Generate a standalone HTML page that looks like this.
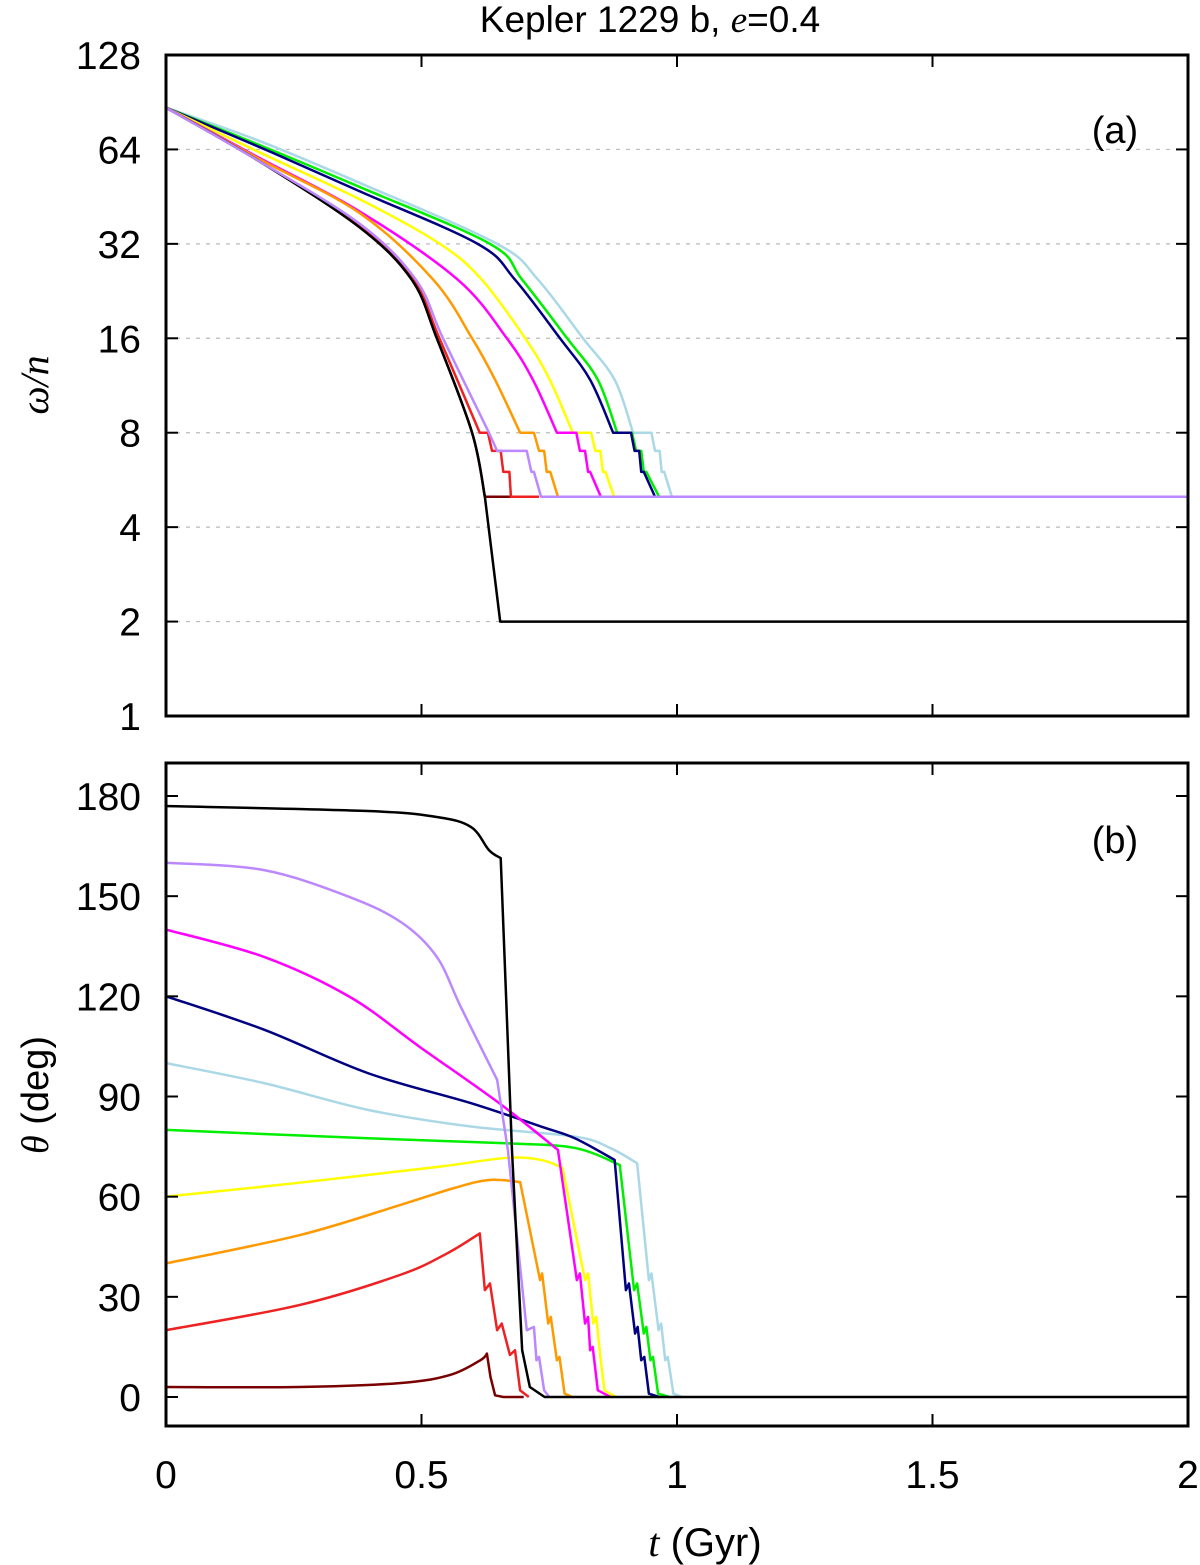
<!DOCTYPE html>
<html><head><meta charset="utf-8"><style>
body{margin:0;background:#fff;}
svg{display:block;font-family:"Liberation Sans",sans-serif;}
</style></head><body>
<svg id="chart" width="1200" height="1565" viewBox="0 0 1200 1565" xmlns="http://www.w3.org/2000/svg">
<text x="650" y="32" font-size="37" text-anchor="middle">Kepler 1229 b, <tspan font-family="Liberation Serif" font-style="italic">e</tspan>=0.4</text>
<g id="top"></g>
<g id="bot"></g>
<text transform="translate(48,385) rotate(-90)" font-size="40" text-anchor="middle" font-family="Liberation Serif" font-style="italic">ω/n</text>
<text transform="translate(48,1095) rotate(-90)" font-size="38" text-anchor="middle"><tspan font-family="Liberation Serif" font-style="italic">θ</tspan> (deg)</text>
<text x="705" y="1556" font-size="40" text-anchor="middle"><tspan font-family="Liberation Serif" font-style="italic">t</tspan> (Gyr)</text>
<text x="1115" y="143" font-size="38" text-anchor="middle">(a)</text>
<text x="1115" y="853" font-size="38" text-anchor="middle">(b)</text>
</svg>
<script>
const xTicks=[0,0.5,1,1.5,2];
const xTickLabels=["0","0.5","1","1.5","2"];
const topTicks=[1,2,4,8,16,32,64,128];
const botTicks=[0,30,60,90,120,150,180];
const colors=["#7a0000","#ee2222","#bb88ff","#ff9900","#ff00ff","#ffff00","#00ee00","#000080","#aad8e6","#000000"];
const names=["darkred","red","purple","orange","magenta","yellow","green","navy","lightblue","black"];
// Panel (a): omega/n vs t [t, value]
const omBlack=[[0,87],[0.184,58.5],[0.38,36],[0.481,24.6],[0.53,16],[0.599,8],[0.624,5],[0.654,2],[2,2]];
const omDarkred=[[0,87],[0.184,58.5],[0.38,36],[0.481,24.6],[0.53,16],[0.599,8],[0.624,5],[0.675,5]];
const omRed=[[0,87],[0.184,58.5],[0.38,36.5],[0.484,24.6],[0.535,16],[0.614,8],[0.63,8],[0.638,7],[0.655,7],[0.66,6],[0.672,6],[0.675,5],[0.73,5]];
const omPurple=[[0,87],[0.184,58.5],[0.38,37],[0.489,24.6],[0.542,16],[0.632,8],[0.648,7],[0.706,7],[0.715,6],[0.72,6],[0.734,5],[2,5]];
const omOrange=[[0,87],[0.184,59.5],[0.38,40],[0.523,24.6],[0.599,16],[0.644,11.8],[0.693,8],[0.72,8],[0.73,7],[0.74,7],[0.745,6],[0.752,6],[0.767,5],[0.8,5]];
const omMagenta=[[0,87],[0.184,60],[0.38,40.5],[0.571,24.6],[0.667,16],[0.718,11.8],[0.765,8],[0.803,8],[0.81,7],[0.82,7],[0.826,6],[0.83,6],[0.851,5],[0.9,5]];
const omYellow=[[0,87],[0.184,62.5],[0.38,44.3],[0.536,32],[0.618,24.6],[0.703,16],[0.751,11.8],[0.796,8],[0.832,8],[0.84,7],[0.85,7],[0.855,6],[0.86,6],[0.877,5],[0.9,5]];
const omNavy=[[0,87],[0.184,65],[0.38,47],[0.61,32],[0.683,24.6],[0.771,16],[0.83,11.8],[0.875,8],[0.91,8],[0.917,7],[0.926,7],[0.93,6],[0.935,6],[0.957,5],[1,5]];
const omGreen=[[0,87],[0.184,66],[0.38,48.5],[0.634,32],[0.697,24.6],[0.785,16],[0.845,11.8],[0.883,8],[0.912,8],[0.92,7],[0.93,7],[0.935,6],[0.94,6],[0.965,5],[1,5]];
const omLightblue=[[0,87],[0.184,68],[0.38,50],[0.648,32],[0.728,24.6],[0.816,16],[0.878,11.8],[0.914,8],[0.95,8],[0.957,7],[0.966,7],[0.97,6],[0.975,6],[0.99,5],[1.02,5]];
// Panel (b): theta vs t
const thDarkred=[[0,3],[0.26,3],[0.46,4.2],[0.556,6.6],[0.615,11],[0.628,13],[0.635,6],[0.644,0.5],[0.66,0],[0.7,0]];
const thRed=[[0,20],[0.26,27.5],[0.457,36.5],[0.55,43],[0.614,49],[0.624,32],[0.634,34],[0.648,20],[0.657,22],[0.673,12.6],[0.683,14],[0.693,2],[0.71,0]];
const thPurple=[[0,160],[0.192,157.8],[0.36,149.7],[0.462,142],[0.53,131.8],[0.577,116.8],[0.648,95],[0.669,74],[0.706,20],[0.72,21],[0.725,11],[0.73,12],[0.74,2],[0.75,0]];
const thOrange=[[0,40],[0.262,48.5],[0.458,57.5],[0.564,62.6],[0.632,65],[0.693,64.4],[0.732,35],[0.736,37],[0.748,22],[0.753,24],[0.765,11],[0.77,12],[0.78,1],[0.795,0]];
const thMagenta=[[0,140],[0.192,131.8],[0.36,119.8],[0.497,104.8],[0.652,88],[0.767,74],[0.804,35],[0.81,37],[0.82,22],[0.826,24],[0.83,14],[0.835,15],[0.845,2],[0.87,0]];
const thYellow=[[0,60],[0.25,64],[0.53,68.9],[0.665,71.6],[0.734,71],[0.776,68.6],[0.82,35],[0.826,37],[0.836,22],[0.842,24],[0.85,12],[0.858,2],[0.88,0]];
const thGreen=[[0,80],[0.395,77.5],[0.665,76],[0.8,74.6],[0.888,69.5],[0.916,32],[0.922,34],[0.935,19],[0.94,21],[0.948,11],[0.953,12],[0.963,1],[0.985,0]];
const thNavy=[[0,120],[0.192,110],[0.395,97],[0.597,88],[0.734,81],[0.8,77.5],[0.878,71],[0.9,32],[0.906,34],[0.918,19],[0.923,21],[0.93,11],[0.936,12],[0.945,1],[0.965,0]];
const thLightblue=[[0,100],[0.192,94],[0.395,86],[0.597,81],[0.8,78],[0.869,74.6],[0.922,70],[0.945,35],[0.95,37],[0.964,20],[0.969,22],[0.977,11],[0.982,12],[0.993,1],[1.01,0]];
const thBlack=[[0,177],[0.395,175.5],[0.53,173.7],[0.597,170.7],[0.632,163.8],[0.655,161.4],[0.665,122],[0.675,82],[0.677,74],[0.697,14],[0.712,3],[0.741,0],[2,0]];

const omSeries=[omDarkred,omRed,omPurple,omOrange,omMagenta,omYellow,omGreen,omNavy,omLightblue,omBlack];
const thSeries=[thDarkred,thRed,thPurple,thOrange,thMagenta,thYellow,thGreen,thNavy,thLightblue,thBlack];
// number of leading points drawn as a smooth curve (rendering hint)
const omSmooth=[7,6,6,7,7,8,8,8,8,7];
const thSmooth=[6,5,7,6,6,6,5,7,7,6];
const omOrder=[8,6,7,5,4,3,0,1,9,2];
const thOrder=[8,6,7,5,4,3,2,1,0,9];

const NS="http://www.w3.org/2000/svg";
const L=166,R=1188;
const xS=t=>L+(R-L)*t/2;
const yTop=v=>716-(716-55)*Math.log2(v)/7;
const yBot=v=>1397-(1397-796)*v/180;
function mk(tag,attrs,parent){const e=document.createElementNS(NS,tag);for(const k in attrs)e.setAttribute(k,attrs[k]);parent.appendChild(e);return e;}
function pathD(pts,n){
  let d='M'+pts[0][0]+','+pts[0][1];
  for(let i=0;i<pts.length-1;i++){
    const p1=pts[i],p2=pts[i+1];
    if(i+1<n){
      const p0=pts[Math.max(i-1,0)],p3=pts[Math.min(i+2,n-1)];
      const c1=[p1[0]+(p2[0]-p0[0])/6,p1[1]+(p2[1]-p0[1])/6];
      const c2=[p2[0]-(p3[0]-p1[0])/6,p2[1]-(p3[1]-p1[1])/6];
      d+=' C'+c1[0]+','+c1[1]+' '+c2[0]+','+c2[1]+' '+p2[0]+','+p2[1];
    } else d+=' L'+p2[0]+','+p2[1];
  }
  return d;
}
function panel(g,top,bottom,ticks,yf,series,smooth,order,prefix,grid){
  if(grid){ticks.forEach(v=>{if(v>1&&v<128){const ln=mk('line',{x1:L,x2:R,y1:yf(v),y2:yf(v),stroke:'#bbb','stroke-width':1.2,'stroke-dasharray':'4,6'},g);
  
  }});}
  const cl=mk('clipPath',{id:'clip'+prefix},g);mk('rect',{x:L,y:top,width:R-L,height:bottom-top},cl);
  const lg=mk('g',{'clip-path':'url(#clip'+prefix+')'},g);
  order.forEach(i=>{const pts=series[i].map(q=>[xS(q[0]),yf(q[1])]);
    const p=mk('path',{d:pathD(pts,smooth[i]),fill:'none',stroke:colors[i],'stroke-width':2.5,'stroke-linejoin':'round'},lg);
    
    });
  ticks.forEach(v=>{const y=yf(v);
    mk('line',{x1:L,x2:L+12,y1:y,y2:y,stroke:'#000','stroke-width':2},g);mk('line',{x1:R,x2:R-12,y1:y,y2:y,stroke:'#000','stroke-width':2},g);
    const t=mk('text',{x:141,y:y+14,'font-size':39,'text-anchor':'end'},g);t.textContent=v;
    
    });
  xTicks.forEach(v=>{const x=xS(v);mk('line',{x1:x,x2:x,y1:top,y2:top+12,stroke:'#000','stroke-width':2},g);mk('line',{x1:x,x2:x,y1:bottom,y2:bottom-12,stroke:'#000','stroke-width':2},g);});
  const fr=mk('rect',{x:L,y:top,width:R-L,height:bottom-top,fill:'none',stroke:'#000','stroke-width':3},g);
  
  
}
panel(document.getElementById('top'),55,716,topTicks,yTop,omSeries,omSmooth,omOrder,'a',true);
panel(document.getElementById('bot'),763,1426,botTicks,yBot,thSeries,thSmooth,thOrder,'b',false);
const bg=document.getElementById('bot');
xTicks.forEach((v,i)=>{const t=mk('text',{x:xS(v),y:1488,'font-size':39,'text-anchor':'middle'},bg);t.textContent=xTickLabels[i];
  
  });
</script>
</body></html>
